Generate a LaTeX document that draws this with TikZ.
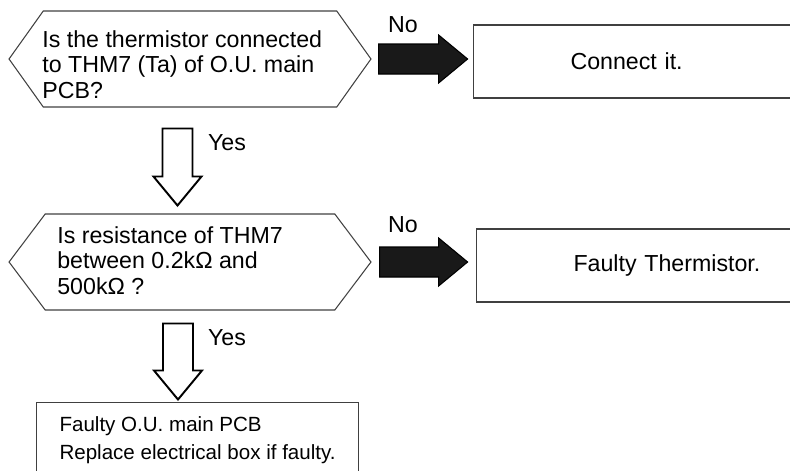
\documentclass[tikz,border=0pt]{standalone}
\usepackage{fontspec}
\setmainfont{Liberation Sans}
\usetikzlibrary{arrows.meta,shapes,positioning}
\usetikzlibrary{calc}
\newcommand{\drawBlockArrow}[4]{
    \begin{scope}[shift={(#1)},rotate=#2]
        \draw[#4] (0,-15) -- (#3-29,-15) -- (#3-29,-24) -- (#3,0) -- (#3-29,24) -- (#3-29,15) -- (0,15) -- cycle;
    \end{scope}
}

\begin{document}
\begin{tikzpicture}[x=0.02cm,y=-0.02cm,line join=miter,
        every node/.style={font=\fontsize{13.2}{14.6}\selectfont},
        decision/.style={draw=black!75,line width=0.6pt,shape=signal,signal to=west and east,
            minimum width=7.24cm,minimum height=1.92cm,inner sep=0pt},
        qtext/.style={align=left,inner sep=0pt,anchor=north west},
        resbox/.style={draw=black!75,line width=0.6pt,anchor=west,align=left,
            minimum height=1.46cm,inner ysep=0pt,inner xsep=1.94cm,text width=8cm},
        endbox/.style={draw=black!75,line width=0.6pt,anchor=north west,align=left,
            font=\fontsize{11.7}{15.9}\selectfont,
            inner xsep=0.46cm,inner ysep=0.28cm,minimum width=6.44cm,text depth=2cm},
        noarrow/.style={draw=black,fill=black!90,line width=0.6pt},
        yesarrow/.style={draw=black,fill=white,line width=1.1pt}]

        % --- Frame ---
        \useasboundingbox (0,0) rectangle (790,470);
        \clip (0,0) rectangle (790,470);

        % First check
        \node[decision,signal pointer angle=109] (q1) at (190,59) {};
        \node[qtext] (q1text) at (42,30) {Is the thermistor connected\\to THM7 (Ta) of O.U. main\\PCB?};
        \node[resbox] (fix1) at (473,61.5) {Connect it.};

        % Second check
        \node[decision,signal pointer angle=106] (q2) at (190,262) {};
        \node[qtext] (q2text) at (57,226) {Is resistance of THM7\\between 0.2kΩ and\\500kΩ ?};
        \node[resbox] (fix2) at (476,265.5) {Faulty Thermistor.};

        % Last step
        \node[endbox] (fix3) at (36,402) {Faulty O.U. main PCB\\Replace electrical box if faulty.};

        % --- Connectors ---
        \coordinate (no1start) at ($(q1.east)+(7,0)$);
        \coordinate (no2start) at ($(q2.east)+(8,0)$);
        \coordinate (yes1start) at ($(q1.south)+(-12.5,21)$);
        \coordinate (yes2start) at ($(q2.south)+(-12,13)$);

        \drawBlockArrow{no1start}{0}{89}{noarrow}
        \drawBlockArrow{no2start}{0}{88}{noarrow}
        \drawBlockArrow{yes1start}{-90}{77}{yesarrow}
        \drawBlockArrow{yes2start}{-90}{76}{yesarrow}

        % labels
        \node (no1) at (403,25) {No};
        \node (no2) at (403,225) {No};
        \node (yes1) at (227,143) {Yes};
        \node (yes2) at (227,338) {Yes};

    \end{tikzpicture}
\end{document}
